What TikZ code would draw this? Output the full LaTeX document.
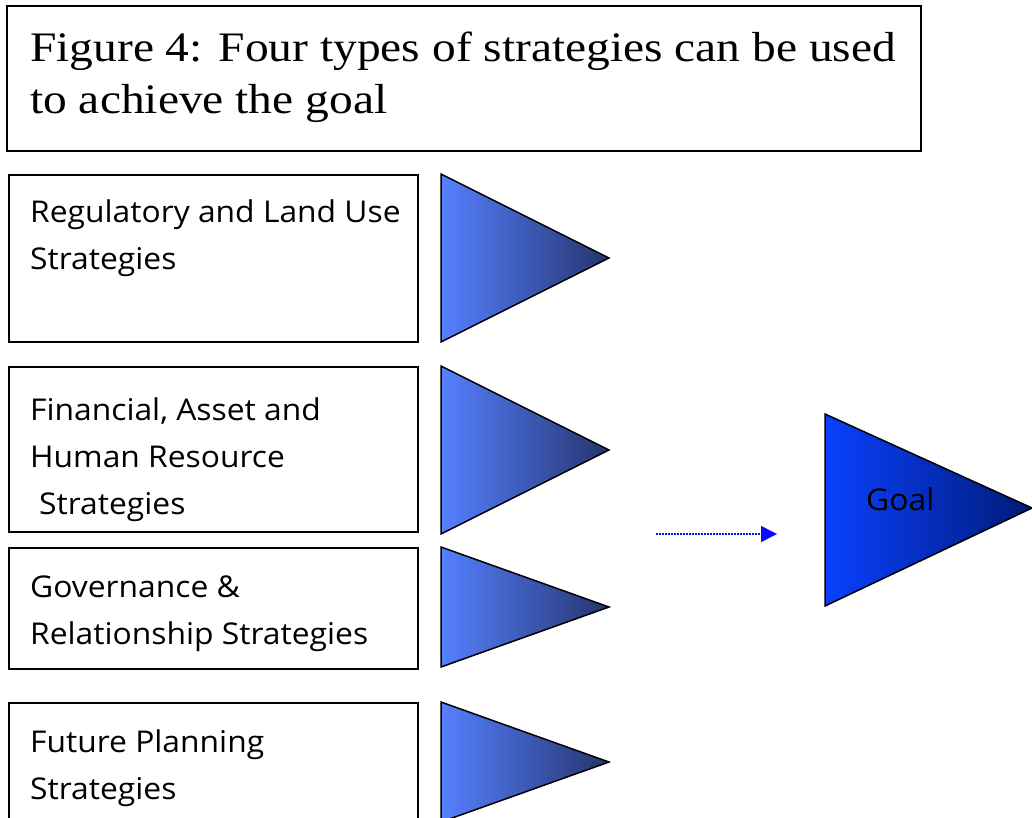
\documentclass[tikz,border=0pt]{standalone}
\usepackage{fontspec}
\setmainfont[FakeStretch=1.13]{Liberation Serif}
\newfontfamily\comicfont[FakeStretch=1.06]{Open Sans}
\newcommand{\labfont}{\comicfont\fontsize{30}{47}\selectfont}
\usetikzlibrary{arrows.meta}
\definecolor{tlight}{HTML}{5580FF}
\definecolor{tdark}{HTML}{26346E}
\definecolor{glight}{HTML}{0A40FF}
\definecolor{gdark}{HTML}{001A78}
\definecolor{arrowblue}{HTML}{0A0AFF}
\begin{document}
\begin{tikzpicture}[x=1pt,y=-1pt,
  box/.style={draw=black, line width=2pt, fill=white, rectangle, inner sep=0pt, anchor=north west},
  lab/.style={anchor=base west, inner sep=0pt},
  tri/.style={draw=black, line width=1.5pt, line join=miter,
    left color=tlight, right color=tdark},
  goaltri/.style={tri, left color=glight, right color=gdark}
]
\useasboundingbox (0,0) rectangle (1032,817);
% title
\node[box, minimum width=914pt, minimum height=145pt] (title) at (6,5) {};
\node[lab] (titletext) at (30,61) {\parbox[t]{900pt}{\fontsize{42}{52}\selectfont Figure 4: Four types of strategies can be used\\to achieve the goal}};
% boxes
\node[box, minimum width=409pt, minimum height=167pt] (b1) at (8,174) {};
\node[box, minimum width=409pt, minimum height=165pt] (b2) at (8,366) {};
\node[box, minimum width=409pt, minimum height=121pt] (b3) at (8,547) {};
\node[box, minimum width=409pt, minimum height=167pt] (b4) at (8,702) {};
\node[lab] (t1) at (30,222) {\parbox[t]{385pt}{\labfont Regulatory and Land Use\\Strategies}};
\node[lab] (t2) at (30,420) {\parbox[t]{385pt}{\labfont Financial, Asset and\\Human Resource\\\hspace*{9pt}Strategies}};
\node[lab] (t3) at (30,597) {\parbox[t]{385pt}{\labfont Governance \&\\Relationship Strategies}};
\node[lab] (t4) at (30,752) {\parbox[t]{385pt}{\labfont Future Planning\\Strategies}};
% triangles
\path[tri] (441,174) -- (609,258) -- (441,342) -- cycle;
\path[tri] (441,366) -- (609,450) -- (441,534) -- cycle;
\path[tri] (441,547) -- (609,607) -- (441,667) -- cycle;
\path[tri] (441,702) -- (609,762) -- (441,822) -- cycle;
% goal
\path[goaltri] (825,414) -- (1032,508) -- (825,606) -- cycle;
\node[lab] (goaltext) at (866,510) {\labfont Goal};
% arrow
\coordinate (a1) at (656,534);
\coordinate (a2) at (777,534);
\draw[arrowblue, line width=1.6pt, dash pattern=on 1.6pt off 1.4pt,
  -{Triangle[length=16pt,width=16pt]}] (a1) -- (a2);
\end{tikzpicture}
\end{document}
